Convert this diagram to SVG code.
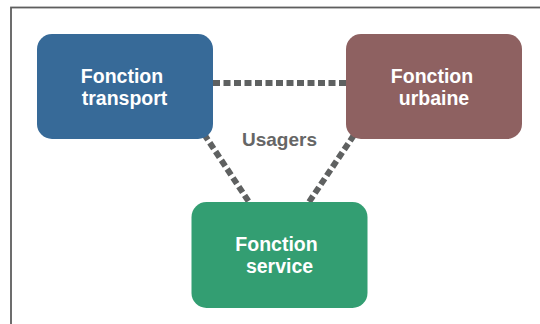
<svg xmlns="http://www.w3.org/2000/svg" width="540" height="324" viewBox="0 0 540 324">
  <style>
    .frame { fill: #ffffff; stroke: #5e5e5e; stroke-width: 1.8; }
    .box { stroke: none; }
    .label { font-family: "Liberation Sans", Arial, sans-serif; font-weight: bold; font-size: 19.5px; fill: #ffffff; text-anchor: middle; }
    .link { stroke: #5f6161; stroke-width: 6; stroke-dasharray: 7 3.5; fill: none; }
    .mid { font-family: "Liberation Sans", Arial, sans-serif; font-weight: bold; font-size: 19px; fill: #666666; text-anchor: middle; }
  </style>
  <rect class="frame" x="11" y="7.5" width="545" height="330"/>

  <g id="connectors">
    <line class="link" x1="213" y1="83" x2="346" y2="83"/>
    <line class="link" x1="204" y1="134" x2="249" y2="202"/>
    <line class="link" x1="354" y1="135" x2="309" y2="202"/>
  </g>

  <text class="mid" x="279.5" y="146">Usagers</text>

  <g id="transport">
    <rect class="box" x="37" y="34" width="176" height="105" rx="15" fill="#376a98"/>
    <text class="label" x="122" y="82.5">Fonction</text>
    <text class="label" x="124.5" y="104.5">transport</text>
  </g>

  <g id="urbaine">
    <rect class="box" x="346" y="34" width="176" height="105" rx="15" fill="#8e6161"/>
    <text class="label" x="432" y="82.5">Fonction</text>
    <text class="label" x="434" y="104.5">urbaine</text>
  </g>

  <g id="service">
    <rect class="box" x="191.5" y="202" width="176" height="106" rx="15" fill="#339e72"/>
    <text class="label" x="276.5" y="250.5">Fonction</text>
    <text class="label" x="279.5" y="273">service</text>
  </g>
</svg>
